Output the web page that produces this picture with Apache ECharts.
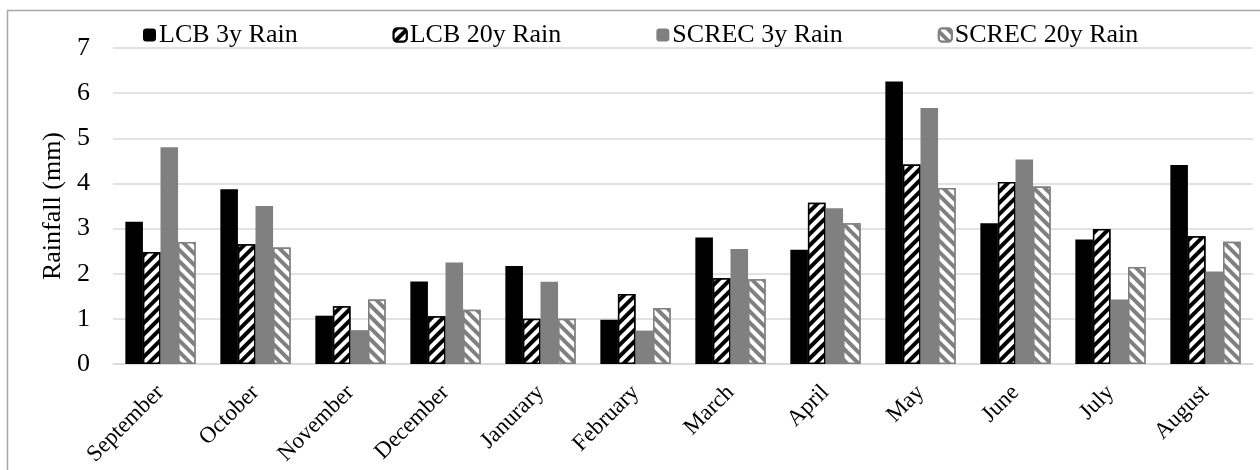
<!DOCTYPE html>
<html><head><meta charset="utf-8">
<script src="https://cdn.jsdelivr.net/npm/echarts@6/dist/echarts.min.js"></script>
<style>html,body{margin:0;padding:0;background:#fff}#c{width:1260px;height:470px}</style>
</head><body><div id="c"></div>
<script>
const months = ['September','October','November','December','Janurary','February','March','April','May','June','July','August'];
const lcb3 = [3.15,3.87,1.07,1.83,2.17,0.98,2.80,2.53,6.26,3.12,2.76,4.41];
const lcb20 = [2.48,2.65,1.28,1.06,1.00,1.55,1.90,3.57,4.42,4.03,2.99,2.83];
const screc3 = [4.80,3.50,0.75,2.25,1.82,0.74,2.55,3.45,5.67,4.53,1.43,2.05];
const screc20 = [2.70,2.58,1.43,1.20,1.00,1.24,1.88,3.12,3.90,3.93,2.15,2.71];
const yTicks = [0,1,2,3,4,5,6,7];
const seriesNames = ['LCB 3y Rain','LCB 20y Rain','SCREC 3y Rain','SCREC 20y Rain'];

const font = 'Liberation Serif';
const chart = echarts.init(document.getElementById('c'), null, {renderer:'canvas'});
function stripe(color, rot){
  return {symbol:'rect', symbolSize:1, dashArrayX:[1,0], dashArrayY:[4,4], rotation:rot, color:color, backgroundColor:'#fff'};
}
chart.setOption({
  animation:false,
  textStyle:{fontFamily:font, color:'#000'},
  graphic:[{type:'rect', shape:{x:7.5, y:10.5, width:1400, height:600}, style:{fill:null, stroke:'#a6a6a6', lineWidth:1.5}, silent:true}],
  legend:{
    top:17, left:138, itemGap:95, itemWidth:13, itemHeight:13,
    textStyle:{fontFamily:font, fontSize:26, color:'#000', padding:[0,0,0,-2]},
    data:seriesNames
  },
  grid:{left:113, right:7, top:48, bottom:106},
  xAxis:{
    type:'category', data:months,
    axisLine:{lineStyle:{color:'#d9d9d9', width:1.5}},
    axisTick:{show:false},
    axisLabel:{rotate:45, fontFamily:font, fontSize:23, color:'#000', margin:25, interval:0}
  },
  yAxis:{
    type:'value', min:yTicks[0], max:yTicks[yTicks.length-1], interval:1,
    name:'Rainfall (mm)', nameLocation:'middle', nameGap:41, nameRotate:90,
    nameTextStyle:{fontFamily:font, fontSize:26, color:'#000'},
    axisLine:{show:false}, axisTick:{show:false},
    axisLabel:{fontFamily:font, fontSize:26, color:'#000', margin:23},
    splitLine:{lineStyle:{color:'#d9d9d9', width:1.5}}
  },
  series:[
    {name:seriesNames[0], type:'bar', data:lcb3, barGap:'0%', barCategoryGap:'26%',
     itemStyle:{color:'#000'}},
    {name:seriesNames[1], type:'bar', data:lcb20,
     itemStyle:{color:'#fff', borderColor:'#000', borderWidth:1.5, decal:stripe('#000', -Math.PI/4)}},
    {name:seriesNames[2], type:'bar', data:screc3,
     itemStyle:{color:'#808080'}},
    {name:seriesNames[3], type:'bar', data:screc20,
     itemStyle:{color:'#fff', borderColor:'#808080', borderWidth:1.5, decal:stripe('#808080', Math.PI/4)}}
  ]
});
</script></body></html>
